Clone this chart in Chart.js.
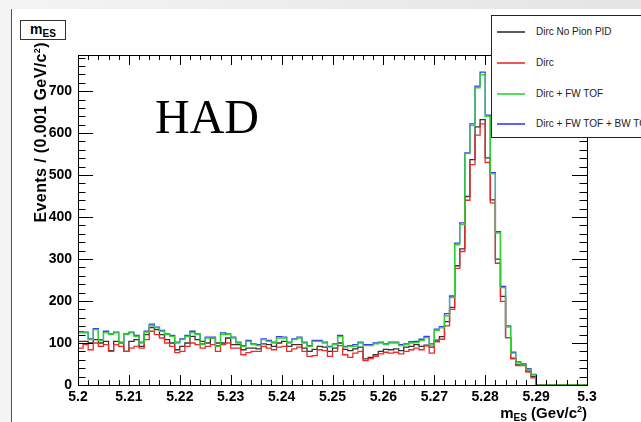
<!DOCTYPE html>
<html>
<head>
<meta charset="utf-8">
<script src="https://cdn.jsdelivr.net/npm/chart.js@4.4.1/dist/chart.umd.min.js"></script>
<style>
  html, body { margin: 0; padding: 0; }
  body {
    width: 641px; height: 422px; overflow: hidden; position: relative;
    background: linear-gradient(90deg, #f4f4f4, #e4e4e4);
    font-family: 'Liberation Sans', Arial, sans-serif;
  }
  #pad { position: absolute; left: 11px; top: 9px; width: 630px; height: 413px; background: #fff; border-left: 1px solid #555; }
  #pad canvas { position: absolute; left: 0; top: 0; }
  .abs { position: absolute; white-space: nowrap; }
  #titlebox {
    left: 20px; top: 20px; width: 44px; height: 18px; border: 1px solid #333; background: #fff;
    font-weight: bold; font-size: 14px; line-height: 16px; text-align: center;
  }
  #titlebox sub, #xtitle sub { font-size: 10px; vertical-align: -3px; }
  #had { left: 155px; top: 93px; font-family: 'Liberation Serif', 'DejaVu Serif', serif; font-size: 48px; line-height: 48px; color: #000; }
  #ytitle {
    left: 28px; top: 227px; width: 185px; height: 18px; line-height: 18px; text-align: right;
    transform-origin: top left; transform: rotate(-90deg);
    font-weight: bold; font-size: 16px; letter-spacing: 0.4px;
  }
  #ytitle sup, #xtitle sup { font-size: 9px; vertical-align: 6px; }
  #xtitle { right: 54px; top: 400px; font-weight: bold; font-size: 15px; line-height: 18px; }
  #legend {
    left: 491px; top: 15px; width: 170px; height: 121px; border: 1px solid #222; background: #fff;
    font-size: 10px; color: #222;
  }
  .entry { position: absolute; left: 5px; height: 12px; line-height: 12px; }
  .entry b { position: absolute; left: 0; top: 5px; width: 28px; height: 2px; opacity: 0.8; }
  .entry span { position: absolute; left: 39px; top: 0; }
</style>
</head>
<body>
<div id="pad"><canvas id="mesChart" width="629" height="413"></canvas></div>
<div class="abs" id="titlebox">m<sub>ES</sub></div>
<div class="abs" id="had">HAD</div>
<div class="abs" id="ytitle">Events / (0.001 GeV/c<sup>2</sup>)</div>
<div class="abs" id="xtitle">m<sub>ES</sub> (Gev/c<sup>2</sup>)</div>
<div class="abs" id="legend"></div>
<script>
// histogram binning (100 bins of 0.001 from 5.2 to 5.3)
const binStart = 5.2;
const binWidth = 0.001;

const seriesNames = ['Dirc No Pion PID', 'Dirc', 'Dirc + FW TOF', 'Dirc + FW TOF + BW TOF'];
const seriesColors = ['#333333', '#ee2a2a', '#2fd42f', '#3a3aff'];

const dircNoPid = [
  104,104,100,108,100,104,82,104,100,80, 104,108,92,120,137,132,120,108,100,84,
  92,100,116,108,104,100,112,100,100,112, 96,96,84,88,88,86,98,96,92,100,
  104,92,96,96,88,80,85,92,90,80, 88,100,85,82,86,90,62,66,72,80,
  85,84,86,82,90,92,96,92,95,90, 107,115,151,185,284,324,449,537,615,632,
  541,441,300,211,113,64,48,47,33,20, 0,0,0,0,0,0,0,0,0,0
];
const dirc = [
  88,96,84,100,92,96,80,96,92,80, 88,92,88,108,128,120,112,100,92,77,
  80,92,100,96,88,92,96,80,96,100, 88,88,72,77,80,80,92,88,84,90,
  92,80,86,90,80,68,70,84,82,68, 80,94,72,66,76,80,58,63,68,74,
  78,76,78,74,80,84,88,84,93,76, 103,109,141,180,278,318,440,525,595,622,
  530,434,290,199,113,62,46,46,31,17, 0,0,0,0,0,0,0,0,0,0
];
const dircFw = [
  124,124,108,132,106,124,120,124,100,120, 124,116,100,126,142,136,128,120,116,100,
  108,116,124,120,96,112,112,92,120,120, 112,100,92,104,96,94,108,104,100,112,
  112,100,108,112,100,92,104,104,100,90, 96,115,90,92,92,100,94,94,98,100,
  96,100,100,94,96,100,101,106,113,95, 130,136,165,208,334,382,551,618,708,739,
  640,503,362,232,138,76,53,48,37,24, 0,0,0,0,0,0,0,0,0,0
];
const dircFwBw = [
  127,126,110,134,108,128,122,126,102,122, 126,118,102,128,145,138,130,122,118,102,
  110,118,128,122,98,114,114,94,124,122, 114,102,94,106,98,96,110,106,102,115,
  114,102,110,114,102,94,106,106,102,92, 98,118,92,94,96,102,96,96,100,102,
  98,102,102,96,98,103,104,109,116,98, 133,139,170,212,338,386,553,622,712,745,
  643,506,365,235,141,78,55,50,39,25, 0,0,0,0,0,0,0,0,0,0
];

const xTickValues = [5.2, 5.21, 5.22, 5.23, 5.24, 5.25, 5.26, 5.27, 5.28, 5.29, 5.3];
const xTickLabels = ['5.2', '5.21', '5.22', '5.23', '5.24', '5.25', '5.26', '5.27', '5.28', '5.29', '5.3'];
const yTickValues = [0, 100, 200, 300, 400, 500, 600, 700];
const yMax = 786;

// histogram outline: one point per bin edge, last bin repeated at the upper edge
function toSteps(values) {
  const pts = values.map((v, i) => ({ x: binStart + i * binWidth, y: v }));
  pts.push({ x: binStart + values.length * binWidth, y: values[values.length - 1] });
  return pts;
}

// ROOT style inward ticks on all four sides plus the frame
const frameTicks = {
  id: 'frameTicks',
  afterDatasetsDraw(chart) {
    const { ctx, chartArea: a, scales: { x, y } } = chart;
    ctx.save();
    ctx.strokeStyle = '#000';
    ctx.lineWidth = 1;
    ctx.beginPath();
    for (let k = 0; k <= 50; k++) {
      const v = binStart + k * 0.002;
      const px = Math.round(x.getPixelForValue(v)) + 0.5;
      const len = k % 5 === 0 ? 10 : 5;
      ctx.moveTo(px, a.bottom); ctx.lineTo(px, a.bottom - len);
      ctx.moveTo(px, a.top); ctx.lineTo(px, a.top + len);
    }
    for (let v = 0; v <= yMax; v += 20) {
      const py = Math.round(y.getPixelForValue(v)) + 0.5;
      const len = v % 100 === 0 ? 15 : 7.5;
      ctx.moveTo(a.left, py); ctx.lineTo(a.left + len, py);
      ctx.moveTo(a.right, py); ctx.lineTo(a.right - len, py);
    }
    ctx.stroke();
    ctx.strokeRect(Math.round(a.left) + 0.5, Math.round(a.top) + 0.5, Math.round(a.width), Math.round(a.height));
    ctx.restore();
  }
};

const allSeries = [dircNoPid, dirc, dircFw, dircFwBw];
const drawOrder = [2, 1, 0, 3];

const ctx = document.getElementById('mesChart').getContext('2d');
new Chart(ctx, {
  type: 'line',
  data: {
    datasets: allSeries.map((vals, i) => ({
      label: seriesNames[i],
      data: toSteps(vals),
      borderColor: seriesColors[i],
      borderWidth: 1.3,
      stepped: 'before',
      pointRadius: 0,
      fill: false,
      order: drawOrder[i]
    }))
  },
  options: {
    responsive: false,
    animation: false,
    layout: { padding: { left: 0, right: 54, top: 46, bottom: 0 } },
    plugins: { legend: { display: false }, tooltip: { enabled: false } },
    scales: {
      x: {
        type: 'linear', min: 5.2, max: 5.3,
        grid: { display: false, drawTicks: false },
        border: { display: false },
        afterFit: s => { s.height = 37; },
        afterBuildTicks: s => { s.ticks = xTickValues.map(v => ({ value: v })); },
        ticks: {
          padding: 4, color: '#000', autoSkip: false, maxRotation: 0,
          font: { family: 'Liberation Sans', size: 14, weight: 'bold' },
          callback: v => xTickLabels[xTickValues.findIndex(t => Math.abs(t - v) < 1e-6)]
        }
      },
      y: {
        min: 0, max: yMax,
        grid: { display: false, drawTicks: false },
        border: { display: false },
        afterFit: s => { s.width = 66; },
        afterBuildTicks: s => { s.ticks = yTickValues.map(v => ({ value: v })); },
        ticks: {
          padding: 6, color: '#000',
          font: { family: 'Liberation Sans', size: 14, weight: 'bold' }
        }
      }
    }
  },
  plugins: [frameTicks]
});

// legend box (overlaps the top right of the frame as in ROOT)
const legendEl = document.getElementById('legend');
const legendRows = [16, 47, 78, 108];
seriesNames.forEach((name, i) => {
  const row = document.createElement('div');
  row.className = 'entry';
  row.style.top = (legendRows[i] - 6) + 'px';
  row.innerHTML = '<b style="background:' + seriesColors[i] + '"></b><span>' + name + '</span>';
  legendEl.appendChild(row);
});
</script>
</body>
</html>
